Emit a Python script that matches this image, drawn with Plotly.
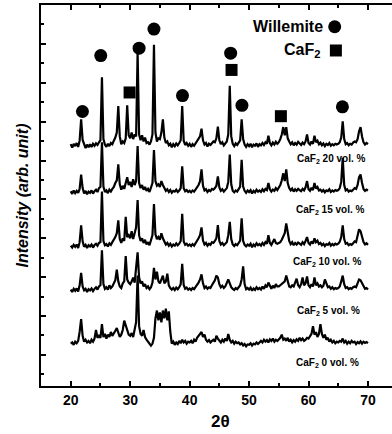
import numpy as np
import plotly.graph_objects as go

# 2-theta sampling grid (0.25 deg steps, 20..70)
two_theta = np.linspace(20, 70, 201)

# relative intensities (rows of 5 degrees)
y_caf2_20 = [
    0.05, -0.04, 0.06, 0.00, 0.08, -0.02, 0.14, 0.69, 0.16, 0.02, -0.05, 0.04, -0.03, 0.05, -0.02, 0.06, 0.01, 0.07, 0.03, 0.10,
    0.15, 1.77, 0.18, 0.04, -0.02, 0.06, 0.00, 0.08, 0.05, 0.14, 0.22, 0.35, 1.03, 0.25, 0.05, 0.12, 0.08, 0.20, 1.05, 0.28,
    0.20, 0.35, 0.18, 0.30, 0.25, 2.41, 0.30, 0.15, 0.28, 0.12, 0.22, 0.08, 0.10, 0.04, 0.12, 0.30, 2.61, 0.35, 0.12, 0.20,
    0.18, 0.35, 0.69, 0.22, 0.08, 0.12, 0.02, 0.06, -0.03, 0.05, 0.00, 0.07, 0.02, 0.08, 0.15, 1.03, 0.14, 0.03, 0.08, 0.01,
    0.06, -0.02, 0.05, 0.01, 0.07, 0.10, 0.18, 0.25, 0.45, 0.15, 0.04, 0.08, -0.01, 0.06, 0.03, 0.09, 0.12, 0.10, 0.20, 0.50,
    0.15, 0.05, 0.10, 0.02, 0.08, 0.12, 0.30, 1.55, 0.25, 0.06, 0.00, 0.07, 0.03, 0.09, 0.15, 0.69, 0.18, 0.04, -0.02, 0.05,
    0.00, 0.06, -0.03, 0.04, 0.01, 0.07, -0.02, 0.05, 0.02, 0.08, 0.03, 0.10, 0.06, 0.27, 0.08, 0.02, 0.09, 0.04, 0.11, 0.06,
    0.10, 0.18, 0.30, 0.49, 0.28, 0.49, 0.20, 0.12, 0.05, 0.10, 0.02, 0.08, 0.04, 0.11, 0.06, 0.03, 0.09, 0.05, 0.12, 0.30,
    0.08, 0.04, 0.12, 0.06, 0.27, 0.10, 0.14, 0.05, 0.09, 0.02, 0.07, 0.00, 0.06, 0.03, 0.08, 0.01, 0.05, 0.02, 0.06, 0.04,
    0.06, 0.10, 0.22, 0.64, 0.18, 0.05, 0.08, 0.02, 0.06, 0.04, 0.09, 0.12, 0.10, 0.18, 0.38, 0.49, 0.25, 0.10, 0.04, 0.08,
    0.05,
]
y_caf2_15 = [
    0.04, -0.03, 0.06, -0.01, 0.05, 0.00, 0.10, 0.47, 0.12, -0.02, 0.05, -0.04, 0.03, 0.00, 0.06, -0.02, 0.04, 0.08, 0.02, 0.12,
    0.15, 1.30, 0.16, 0.02, 0.06, -0.01, 0.08, 0.03, 0.10, 0.15, 0.25, 0.32, 0.73, 0.22, 0.08, 0.18, 0.10, 0.22, 0.40, 0.20,
    0.28, 0.15, 0.35, 0.20, 0.30, 1.20, 0.25, 0.12, 0.20, 0.08, 0.15, 0.05, 0.10, 0.02, 0.12, 0.25, 1.10, 0.30, 0.18, 0.22,
    0.15, 0.30, 0.20, 0.10, 0.05, 0.09, 0.02, 0.07, 0.00, 0.05, 0.03, 0.08, 0.02, 0.06, 0.12, 0.68, 0.12, 0.04, 0.07, 0.02,
    0.05, 0.01, 0.06, 0.03, 0.08, 0.12, 0.20, 0.30, 0.60, 0.18, 0.06, 0.09, 0.02, 0.07, 0.04, 0.10, 0.08, 0.12, 0.18, 0.42,
    0.14, 0.05, 0.09, 0.03, 0.07, 0.12, 0.28, 0.98, 0.22, 0.05, 0.01, 0.06, 0.03, 0.08, 0.16, 0.85, 0.16, 0.05, 0.00, 0.06,
    0.02, 0.07, -0.02, 0.05, 0.01, 0.08, 0.03, 0.06, 0.02, 0.09, 0.04, 0.10, 0.07, 0.25, 0.09, 0.03, 0.08, 0.05, 0.12, 0.07,
    0.12, 0.20, 0.32, 0.50, 0.30, 0.60, 0.25, 0.12, 0.06, 0.11, 0.03, 0.09, 0.05, 0.10, 0.07, 0.04, 0.10, 0.06, 0.14, 0.30,
    0.09, 0.05, 0.13, 0.07, 0.25, 0.11, 0.15, 0.06, 0.08, 0.03, 0.07, 0.01, 0.06, 0.04, 0.09, 0.02, 0.06, 0.03, 0.07, 0.05,
    0.07, 0.12, 0.28, 0.90, 0.20, 0.06, 0.09, 0.03, 0.06, 0.04, 0.08, 0.12, 0.10, 0.20, 0.40, 0.47, 0.25, 0.10, 0.05, 0.08,
    0.06,
]
y_caf2_10 = [
    0.03, -0.02, 0.05, 0.00, 0.06, -0.03, 0.12, 0.55, 0.14, 0.00, 0.05, -0.03, 0.04, 0.01, 0.06, -0.02, 0.05, 0.08, 0.03, 0.10,
    0.12, 1.42, 0.15, 0.04, 0.07, 0.01, 0.09, 0.05, 0.12, 0.18, 0.25, 0.35, 0.68, 0.20, 0.10, 0.22, 0.15, 0.77, 0.25, 0.30,
    0.22, 0.40, 0.20, 0.35, 0.50, 1.20, 0.30, 0.15, 0.22, 0.10, 0.18, 0.06, 0.12, 0.04, 0.15, 0.30, 1.10, 0.32, 0.20, 0.25,
    0.18, 0.35, 0.22, 0.12, 0.06, 0.10, 0.03, 0.08, 0.01, 0.06, 0.03, 0.09, 0.04, 0.08, 0.15, 0.85, 0.14, 0.05, 0.08, 0.03,
    0.06, 0.02, 0.07, 0.03, 0.09, 0.14, 0.22, 0.30, 0.50, 0.16, 0.06, 0.10, 0.03, 0.08, 0.05, 0.12, 0.10, 0.15, 0.22, 0.56,
    0.15, 0.06, 0.10, 0.04, 0.08, 0.12, 0.30, 0.64, 0.20, 0.06, 0.02, 0.07, 0.04, 0.09, 0.16, 0.73, 0.15, 0.05, 0.01, 0.06,
    0.03, 0.08, -0.01, 0.06, 0.02, 0.09, 0.04, 0.07, 0.03, 0.10, 0.05, 0.12, 0.08, 0.30, 0.10, 0.05, 0.12, 0.20, 0.10, 0.08,
    0.10, 0.12, 0.18, 0.25, 0.35, 0.60, 0.30, 0.15, 0.07, 0.12, 0.04, 0.10, 0.06, 0.11, 0.08, 0.05, 0.12, 0.07, 0.15, 0.25,
    0.10, 0.06, 0.14, 0.08, 0.22, 0.12, 0.16, 0.07, 0.10, 0.04, 0.08, 0.02, 0.07, 0.05, 0.10, 0.03, 0.07, 0.04, 0.08, 0.06,
    0.08, 0.13, 0.25, 0.55, 0.20, 0.08, 0.10, 0.04, 0.07, 0.05, 0.09, 0.14, 0.12, 0.30, 0.45, 0.40, 0.25, 0.12, 0.06, 0.09,
    0.05,
]
y_caf2_5 = [
    0.04, -0.02, 0.06, 0.01, 0.07, -0.01, 0.15, 0.47, 0.12, 0.02, 0.06, -0.02, 0.05, 0.02, 0.07, 0.00, 0.06, 0.10, 0.04, 0.12,
    0.15, 1.05, 0.18, 0.06, 0.10, 0.04, 0.15, 0.08, 0.12, 0.20, 0.28, 0.55, 0.25, 0.12, 0.08, 0.20, 0.25, 0.90, 0.30, 0.22,
    0.18, 0.25, 0.35, 0.22, 0.60, 1.00, 0.35, 0.20, 0.25, 0.12, 0.18, 0.08, 0.12, 0.05, 0.10, 0.22, 0.60, 0.30, 0.50, 0.25,
    0.20, 0.28, 0.40, 0.20, 0.25, 0.45, 0.15, 0.08, 0.04, 0.08, 0.03, 0.09, 0.05, 0.10, 0.18, 0.70, 0.16, 0.06, 0.09, 0.04,
    0.07, 0.03, 0.08, 0.05, 0.10, 0.15, 0.22, 0.30, 0.43, 0.20, 0.08, 0.12, 0.06, 0.10, 0.08, 0.15, 0.20, 0.28, 0.40, 0.35,
    0.18, 0.10, 0.14, 0.08, 0.12, 0.20, 0.30, 0.20, 0.10, 0.06, 0.03, 0.08, 0.05, 0.10, 0.15, 0.30, 0.64, 0.18, 0.05, 0.08,
    0.04, 0.09, 0.01, 0.07, 0.03, 0.10, 0.05, 0.08, 0.04, 0.12, 0.06, 0.15, 0.10, 0.22, 0.12, 0.06, 0.14, 0.08, 0.18, 0.12,
    0.12, 0.15, 0.18, 0.22, 0.25, 0.40, 0.22, 0.12, 0.10, 0.15, 0.12, 0.20, 0.32, 0.15, 0.10, 0.18, 0.35, 0.15, 0.20, 0.38,
    0.15, 0.10, 0.18, 0.12, 0.35, 0.15, 0.20, 0.12, 0.15, 0.10, 0.14, 0.30, 0.22, 0.10, 0.12, 0.06, 0.10, 0.05, 0.08, 0.06,
    0.08, 0.12, 0.25, 0.40, 0.18, 0.08, 0.10, 0.05, 0.08, 0.06, 0.10, 0.12, 0.10, 0.18, 0.30, 0.28, 0.20, 0.10, 0.06, 0.08,
    0.04,
]
y_caf2_0 = [
    0.05, 0.08, 0.02, 0.10, 0.06, 0.12, 0.35, 0.68, 0.25, 0.10, 0.15, 0.08, 0.12, 0.06, 0.15, 0.10, 0.18, 0.40, 0.20, 0.25,
    0.20, 0.55, 0.22, 0.30, 0.18, 0.28, 0.22, 0.35, 0.25, 0.30, 0.38, 0.45, 0.30, 0.22, 0.28, 0.40, 0.64, 0.50, 0.35, 0.28,
    0.25, 0.32, 0.22, 0.40, 0.60, 1.80, 0.50, 0.30, 0.25, 0.40, 0.22, 0.15, 0.10, 0.05, 0.00, 0.05, 0.20, 0.70, 0.90, 0.65,
    0.85, 0.60, 0.90, 0.70, 0.95, 0.65, 0.88, 0.35, 0.05, 0.10, 0.02, 0.08, 0.04, 0.12, 0.06, 0.15, 0.08, 0.12, 0.05, 0.10,
    0.08, 0.12, 0.06, 0.15, 0.10, 0.20, 0.25, 0.30, 0.35, 0.22, 0.28, 0.15, 0.10, 0.14, 0.08, 0.12, 0.15, 0.10, 0.25, 0.18,
    0.12, 0.08, 0.15, 0.10, 0.18, 0.12, 0.30, 0.15, 0.08, 0.12, 0.05, 0.10, 0.06, 0.08, 0.03, 0.06, 0.00, 0.04, -0.02, 0.03,
    0.02, 0.06, 0.00, 0.05, 0.03, 0.08, 0.04, 0.09, 0.12, 0.08, 0.15, 0.10, 0.14, 0.08, 0.16, 0.12, 0.18, 0.10, 0.15, 0.12,
    0.15, 0.20, 0.28, 0.15, 0.18, 0.12, 0.20, 0.10, 0.15, 0.08, 0.14, 0.10, 0.16, 0.12, 0.20, 0.14, 0.18, 0.12, 0.15, 0.20,
    0.18, 0.25, 0.30, 0.50, 0.28, 0.35, 0.22, 0.30, 0.55, 0.30, 0.20, 0.28, 0.15, 0.20, 0.10, 0.15, 0.08, 0.12, 0.06, 0.10,
    0.08, 0.12, 0.10, 0.18, 0.08, 0.12, 0.05, 0.10, 0.06, 0.12, 0.08, 0.10, 0.04, 0.09, 0.06, 0.11, 0.05, 0.10, 0.07, 0.09,
    0.06,
]

series_names = ["CaF<sub>2</sub> 0 vol. %", "CaF<sub>2</sub> 5 vol. %", "CaF<sub>2</sub> 10 vol. %",
                "CaF<sub>2</sub> 15 vol. %", "CaF<sub>2</sub> 20 vol. %"]
series_values = [y_caf2_0, y_caf2_5, y_caf2_10, y_caf2_15, y_caf2_20]
offsets = [0.24, 1.64, 2.78, 4.17, 5.37]

label_x = [68.8, 69.0, 69.2, 69.66, 69.8]
label_y = [-0.2, 1.13, 2.38, 3.72, 5.05]

willemite_x = [21.97, 25.05, 31.5, 34.0, 38.8, 46.9, 48.8, 65.7]
willemite_y = [6.26, 7.70, 7.89, 8.38, 6.67, 7.76, 6.42, 6.38]
caf2_x = [29.9, 47.05, 55.35]
caf2_y = [6.75, 7.33, 6.14]

x_ticks = [20, 30, 40, 50, 60, 70]

FONT = "Liberation Sans, Arial, sans-serif"

fig = go.Figure()
for vals, off in zip(series_values, offsets):
    fig.add_trace(go.Scatter(x=two_theta, y=np.array(vals) + off, mode="lines",
                             line=dict(color="black", width=2.2), showlegend=False))

fig.add_trace(go.Scatter(x=willemite_x, y=willemite_y, mode="markers",
                         marker=dict(symbol="circle", size=13, color="black"), showlegend=False))
fig.add_trace(go.Scatter(x=caf2_x, y=caf2_y, mode="markers",
                         marker=dict(symbol="square", size=12, color="black"), showlegend=False))
# legend markers
fig.add_trace(go.Scatter(x=[64.4], y=[8.44], mode="markers",
                         marker=dict(symbol="circle", size=13, color="black"), showlegend=False))
fig.add_trace(go.Scatter(x=[64.6], y=[7.83], mode="markers",
                         marker=dict(symbol="square", size=12, color="black"), showlegend=False))

annotations = [
    dict(x=62.8, y=8.44, text="Willemite", showarrow=False, xanchor="right", yanchor="middle",
         font=dict(family=FONT, size=16, color="black", weight="bold")),
    dict(x=62.3, y=7.83, text="CaF<sub>2</sub>", showarrow=False, xanchor="right", yanchor="middle",
         font=dict(family=FONT, size=16, color="black", weight="bold")),
]
for name, lx, ly in zip(series_names, label_x, label_y):
    annotations.append(dict(x=lx, y=ly, text=name, showarrow=False, xanchor="right", yanchor="middle",
                            font=dict(family=FONT, size=10, color="black", weight="bold")))
annotations.append(dict(xref="paper", yref="paper", x=-0.054, y=0.5, text="<i>Intensity (arb. unit)</i>",
                        textangle=-90, showarrow=False, xanchor="center", yanchor="middle",
                        font=dict(family=FONT, size=16, color="black", weight="bold")))
annotations.append(dict(xref="paper", yref="paper", x=(220 - 41) / 351, y=-0.092, text="2θ",
                        showarrow=False, xanchor="center", yanchor="middle",
                        font=dict(family=FONT, size=17, color="black", weight="bold")))

fig.update_layout(
    width=392, height=434,
    margin=dict(l=41, r=0, t=5, b=48),
    paper_bgcolor="white", plot_bgcolor="white",
    annotations=annotations,
    xaxis=dict(range=[15, 74.04], tickvals=x_ticks, ticks="inside", ticklen=5, tickwidth=1.5,
               tickcolor="black", showline=True, linecolor="black", linewidth=2, mirror="ticks",
               showgrid=False, zeroline=False,
               minor=dict(dtick=5, tick0=15, ticks="inside", ticklen=3, tickcolor="black", showgrid=False),
               tickfont=dict(family=FONT, size=14, color="black", weight="bold")),
    yaxis=dict(range=[-0.8, 9.0], tickvals=list(range(0, 10)), ticks="inside", ticklen=5, tickwidth=1.5,
               tickcolor="black", showline=True, linecolor="black", linewidth=2,
               showticklabels=False, showgrid=False, zeroline=False,
               minor=dict(dtick=0.5, tick0=0.5, ticks="inside", ticklen=3, tickcolor="black", showgrid=False)),
)

fig.write_html("out.html", config={"displayModeBar": False},
               post_script="document.body.style.margin='0px';")
